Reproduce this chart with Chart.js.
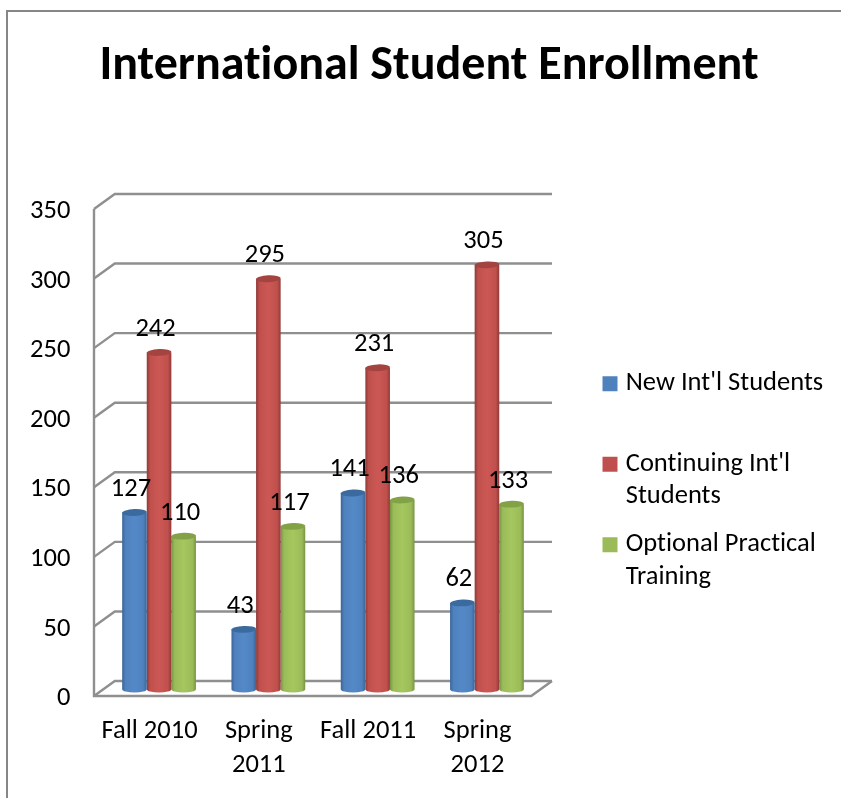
<!DOCTYPE html>
<html><head><meta charset="utf-8">
<style>html,body{margin:0;padding:0;background:#fff}canvas{display:block}</style>
<script src="https://cdn.jsdelivr.net/npm/chart.js@4"></script>
</head><body><canvas id="c" width="841" height="798"></canvas>
<script>
const categories = ["Fall 2010", ["Spring","2011"], "Fall 2011", ["Spring","2012"]];
const newStudents = [127, 43, 141, 62];
const continuing = [242, 295, 231, 305];
const optional = [110, 117, 136, 133];
const yTicks = [0, 50, 100, 150, 200, 250, 300, 350];
const chartTitle = "International Student Enrollment";
const seriesNames = [["New Int'l Students",""], ["Continuing Int'l","Students"], ["Optional Practical","Training"]];
const FONT = "Carlito, Lato, Calibri, sans-serif";
const palette = [
  {solid:"#4f81bd", edge:"#3a659b", mid:"#5489c8", top:"#3b6a9e"},
  {solid:"#c0504d", edge:"#8f3a38", mid:"#cc5855", top:"#a44441"},
  {solid:"#9bbb59", edge:"#789443", mid:"#a5c75e", top:"#83a147"}
];
const DX = 10.4, DY = 7.5, GRID = "#8f8f8f", BAR_SHIFT = 0.7;

function cylinder(ctx, el, p) {
  const rx = el.width / 2, l = el.x - rx, r = el.x + rx, ry = 3.4;
  const ty = el.y + BAR_SHIFT, by = el.base + BAR_SHIFT;
  const g = ctx.createLinearGradient(l, 0, r, 0);
  g.addColorStop(0, p.edge); g.addColorStop(0.14, p.solid); g.addColorStop(0.5, p.mid);
  g.addColorStop(0.86, p.solid); g.addColorStop(1, p.edge);
  ctx.save();
  ctx.fillStyle = g;
  ctx.beginPath();
  ctx.moveTo(l, ty);
  ctx.lineTo(l, by);
  ctx.ellipse(el.x, by, rx, ry, 0, Math.PI, 0, true);
  ctx.lineTo(r, ty);
  ctx.closePath();
  ctx.fill();
  ctx.fillStyle = p.top;
  ctx.beginPath();
  ctx.ellipse(el.x, ty, rx, ry, -0.04, 0, Math.PI * 2);
  ctx.fill();
  ctx.restore();
}

const decor = {
  id: "decor",
  afterLayout(chart) {
    const t = chart.titleBlock; t.left = 17; t.right = 841; t.width = 824;
    const l = chart.legend; l.left = 592; l.right = 841; l.top = 355; l.bottom = 760; l.width = 249; l.height = 405;
  },
  afterDatasetsUpdate(chart) {
    chart.data.datasets.forEach((d, i) => {
      chart.getDatasetMeta(i).data.forEach(el => { el.draw = function (ctx) { cylinder(ctx, this, palette[i]); }; });
    });
  },
  beforeDraw(chart) {
    const c = chart.ctx;
    c.letterSpacing = "0.01px";
    c.save();
    c.fillStyle = "#fff"; c.fillRect(0, 0, 841, 798);
    c.strokeStyle = "#868686"; c.lineWidth = 2;
    c.beginPath(); c.moveTo(7, 798); c.lineTo(7, 11); c.lineTo(841, 11); c.stroke();
    c.restore();
  },
  beforeDatasetsDraw(chart) {
    const c = chart.ctx, x = chart.scales.x, y = chart.scales.y;
    const fl = x.left - DX, fr = x.right - DX, bl = x.left + DX, br = x.right + DX;
    c.save();
    c.strokeStyle = GRID; c.lineWidth = 2.4; c.lineCap = "butt"; c.lineJoin = "miter";
    yTicks.forEach(v => {
      const p = y.getPixelForValue(v);
      c.beginPath(); c.moveTo(fl, p + DY); c.lineTo(bl, p - DY); c.lineTo(br, p - DY); c.stroke();
    });
    const z = y.getPixelForValue(0), m = y.getPixelForValue(350);
    c.beginPath(); c.moveTo(fl, m + DY); c.lineTo(fl, z + DY); c.lineTo(fr, z + DY); c.lineTo(br, z - DY); c.stroke();
    c.restore();
  },
  afterDatasetsDraw(chart) {
    const c = chart.ctx;
    c.save();
    c.fillStyle = "#000"; c.font = "26.5px " + FONT; c.textAlign = "center"; c.textBaseline = "middle";
    chart.data.datasets.forEach((d, i) => {
      chart.getDatasetMeta(i).data.forEach((el, j) => { c.fillText(String(d.data[j]), el.x - 3.5, el.y - 22.5); });
    });
    c.restore();
  }
};

new Chart(document.getElementById("c"), {
  type: "bar",
  data: {
    labels: categories,
    datasets: [
      {label: "New Int'l Students", data: newStudents, backgroundColor: palette[0].solid, clip: false},
      {label: "Continuing Int'l Students", data: continuing, backgroundColor: palette[1].solid, clip: false},
      {label: "Optional Practical Training", data: optional, backgroundColor: palette[2].solid, clip: false}
    ]
  },
  plugins: [decor],
  options: {
    responsive: false, animation: false, devicePixelRatio: 1,
    layout: {autoPadding: false, padding: {left: 0, top: 0, right: 299.4, bottom: 0}},
    datasets: {bar: {barPercentage: 1, categoryPercentage: 0.675}},
    scales: {
      x: {
        grid: {display: false, drawTicks: false}, border: {display: false},
        afterFit(s) { s.height = 109.5; },
        ticks: {autoSkip: false, maxRotation: 0, minRotation: 0, padding: 26, labelOffset: -9.5,
          color: "#000", font: {family: FONT, size: 26.5, lineHeight: 34 / 26.5}}
      },
      y: {
        min: 0, max: 350,
        grid: {display: false, drawTicks: false}, border: {display: false},
        afterFit(s) { s.width = 104.4; },
        afterBuildTicks(s) { s.ticks = yTicks.map(v => ({value: v})); },
        ticks: {padding: 34, labelOffset: 10, color: "#000", font: {family: FONT, size: 26.5}}
      }
    },
    plugins: {
      title: {display: true, text: chartTitle, color: "#000", align: "center",
        font: {family: FONT, size: 48, weight: "bold", lineHeight: 1.2},
        padding: {top: 38, bottom: 105.9}},
      legend: {
        display: true, position: "chartArea", align: "start",
        labels: {
          boxWidth: 5, boxHeight: 5, padding: 15.5, color: "#000",
          font: {family: FONT, size: 26.5, lineHeight: 32.5 / 26.5},
          generateLabels() {
            return seriesNames.map((t, i) => ({text: t, fillStyle: palette[i].solid, strokeStyle: palette[i].solid, lineWidth: 10, lineJoin: "miter", datasetIndex: i}));
          }
        }
      },
      tooltip: {enabled: false}
    }
  }
});
</script></body></html>
